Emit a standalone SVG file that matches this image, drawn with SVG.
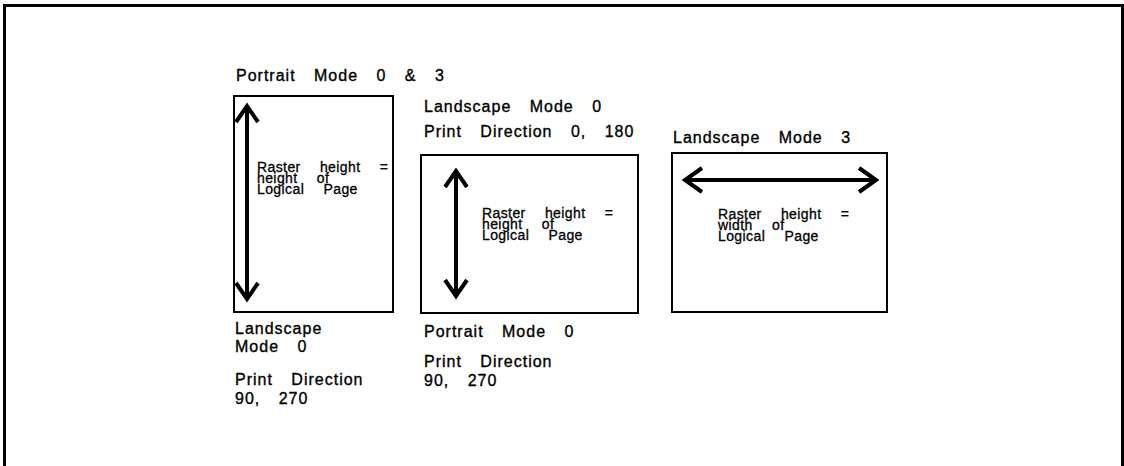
<svg xmlns="http://www.w3.org/2000/svg" width="1124" height="466" viewBox="0 0 1124 466">
<style>
.t{font-family:"Liberation Sans",Arial,sans-serif;font-size:16px;letter-spacing:1px;word-spacing:13px;fill:#000;stroke:#000;stroke-width:0.35px}
.s{font-family:"Liberation Sans",Arial,sans-serif;font-size:14px;letter-spacing:0.4px;word-spacing:15px;fill:#000;stroke:#000;stroke-width:0.3px}
.box{fill:#fff;stroke:#000;stroke-width:2}
.arr{fill:none;stroke:#000;stroke-width:4;stroke-linejoin:miter}
</style>
<rect x="4.5" y="5.5" width="1118" height="500" fill="#fff" stroke="#000" stroke-width="3"/>
<g id="portrait-mode">
<text class="t" x="236" y="81">Portrait Mode 0 &amp; 3</text>
<rect class="box" x="234" y="96" width="159" height="216"/>
<text class="s"><tspan x="257" y="172">Raster height =</tspan><tspan x="257" y="183">height of</tspan><tspan x="257" y="194">Logical Page</tspan></text>
<text class="t"><tspan x="235" y="334">Landscape</tspan><tspan x="235" y="352">Mode 0</tspan><tspan x="235" y="385">Print Direction</tspan><tspan x="235" y="404">90, 270</tspan></text>
</g>
<g id="landscape-mode-0">
<text class="t"><tspan x="424" y="112">Landscape Mode 0</tspan><tspan x="424" y="137">Print Direction 0, 180</tspan></text>
<rect class="box" x="421" y="155" width="217" height="158"/>
<text class="s"><tspan x="482" y="218">Raster height =</tspan><tspan x="482" y="229">height of</tspan><tspan x="482" y="240">Logical Page</tspan></text>
<text class="t"><tspan x="424" y="337">Portrait Mode 0</tspan><tspan x="424" y="367">Print Direction</tspan><tspan x="424" y="386">90, 270</tspan></text>
</g>
<g id="landscape-mode-3">
<text class="t" x="673" y="143">Landscape Mode 3</text>
<rect class="box" x="672" y="153" width="215" height="159"/>
<text class="s"><tspan x="718" y="219">Raster height =</tspan><tspan x="718" y="230">width of</tspan><tspan x="718" y="241">Logical Page</tspan></text>
</g>
<g id="connectors">
<path class="arr" d="M247 107V298M236 122L247 106L258 122M236 283L247 299L258 283"/>
<path class="arr" d="M456 172V295M445 187L456 171L467 187M445 280L456 296L467 280"/>
<path class="arr" d="M686 180H875M702 168L685 180L702 192M859 168L876 180L859 192"/>
</g>
</svg>
